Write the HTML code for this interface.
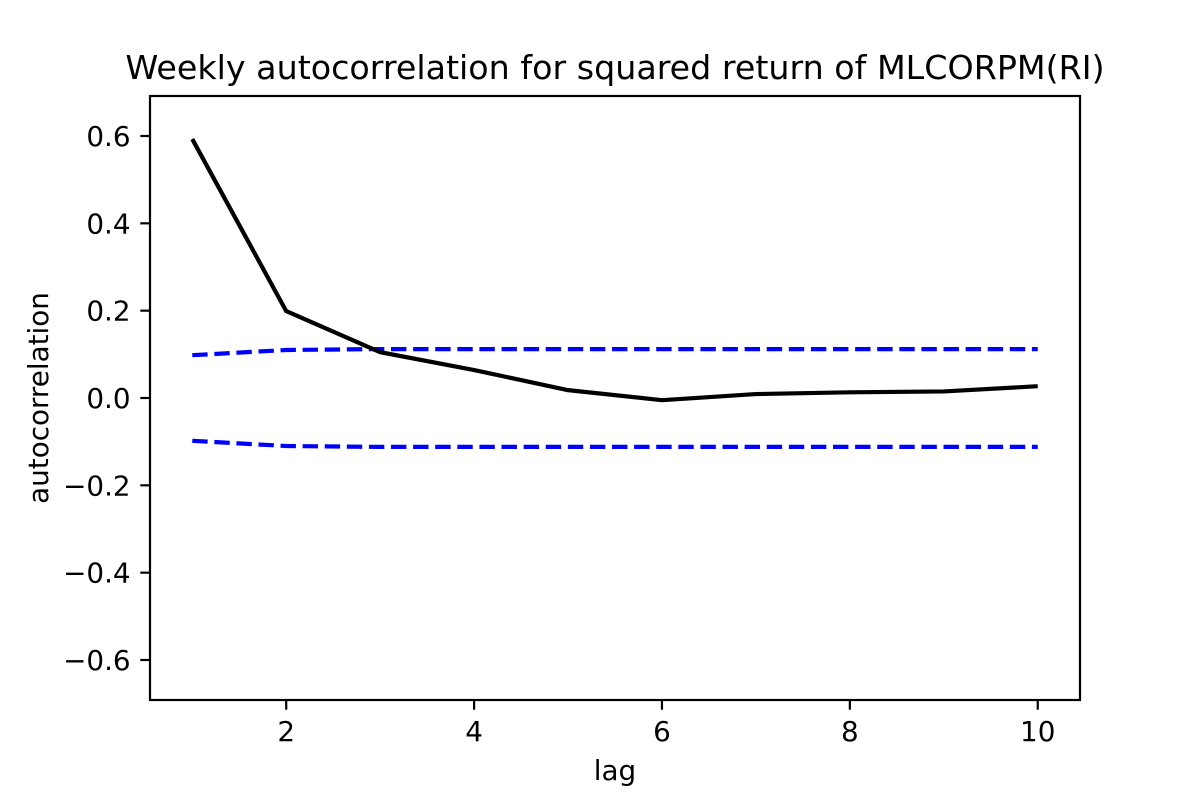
<!DOCTYPE html>
<html><head><meta charset="utf-8">
<style>
html,body{margin:0;padding:0;background:#fff;}
svg text{font-family:"DejaVu Sans","Liberation Sans",sans-serif;fill:#000;}
</style></head>
<body>
<svg id="chart" width="1200" height="800" viewBox="0 0 1200 800" xmlns="http://www.w3.org/2000/svg">
<rect width="1200" height="800" fill="#fff"/>
<text x="615" y="79" font-size="33.3" text-anchor="middle">Weekly autocorrelation for squared return of MLCORPM(RI)</text>
<text x="615" y="780" font-size="27.8" text-anchor="middle">lag</text>
<text transform="translate(48,398) rotate(-90)" font-size="27.8" text-anchor="middle">autocorrelation</text>
<g id="xt"></g>
<g id="yt"></g>
<g id="plot"></g>
<rect x="150" y="96" width="930" height="604" fill="none" stroke="#000" stroke-width="2.2"/>
</svg>
<script>
const lags = [1,2,3,4,5,6,7,8,9,10];
const acf = [0.593,0.199,0.105,0.064,0.018,-0.005,0.009,0.013,0.015,0.027];
const upperBound = [0.098,0.110,0.112,0.112,0.112,0.112,0.112,0.112,0.112,0.112];
const lowerBound = [-0.098,-0.110,-0.112,-0.112,-0.112,-0.112,-0.112,-0.112,-0.112,-0.112];
const xTicks = [2,4,6,8,10];
const yTicks = [-0.6,-0.4,-0.2,0.0,0.2,0.4,0.6];

const L=150,R=1080,T=96,B=700;
const xMin=0.55,xMax=10.45,yMin=-0.6916,yMax=0.6916;
const sx=v=>L+(v-xMin)/(xMax-xMin)*(R-L);
const sy=v=>B-(v-yMin)/(yMax-yMin)*(B-T);
const NS="http://www.w3.org/2000/svg";
function mk(tag,attrs,parent){const e=document.createElementNS(NS,tag);for(const k in attrs)e.setAttribute(k,attrs[k]);parent.appendChild(e);return e;}
const xt=document.getElementById('xt'),yt=document.getElementById('yt'),plot=document.getElementById('plot');
xTicks.forEach(v=>{
  const l=mk('line',{x1:sx(v),x2:sx(v),y1:B,y2:B+9.7,stroke:'#000','stroke-width':2.2},xt);
  
  
  const t=mk('text',{x:sx(v),y:B+41,'font-size':27.8,'text-anchor':'middle'},xt);
  t.textContent=String(v);
  
  
});
yTicks.forEach(v=>{
  const l=mk('line',{x1:L-9.7,x2:L,y1:sy(v),y2:sy(v),stroke:'#000','stroke-width':2.2},yt);
  
  
  const t=mk('text',{x:L-19.4,y:sy(v)+10,'font-size':27.8,'text-anchor':'end'},yt);
  t.textContent=(v<0?'\u2212':'')+Math.abs(v).toFixed(1);
  
  
});
function path(arr){return lags.map((x,i)=>(i?'L':'M')+sx(x).toFixed(2)+','+sy(arr[i]).toFixed(2)).join(' ');}
const up=mk('path',{d:path(upperBound),fill:'none',stroke:'#0000ff','stroke-width':4.2,'stroke-dasharray':'15.4,6.7'},plot);


const lo=mk('path',{d:path(lowerBound),fill:'none',stroke:'#0000ff','stroke-width':4.2,'stroke-dasharray':'15.4,6.7'},plot);


const ac=mk('path',{d:path(acf),fill:'none',stroke:'#000','stroke-width':4.2,'stroke-linejoin':'round'},plot);


</script>
</body></html>
